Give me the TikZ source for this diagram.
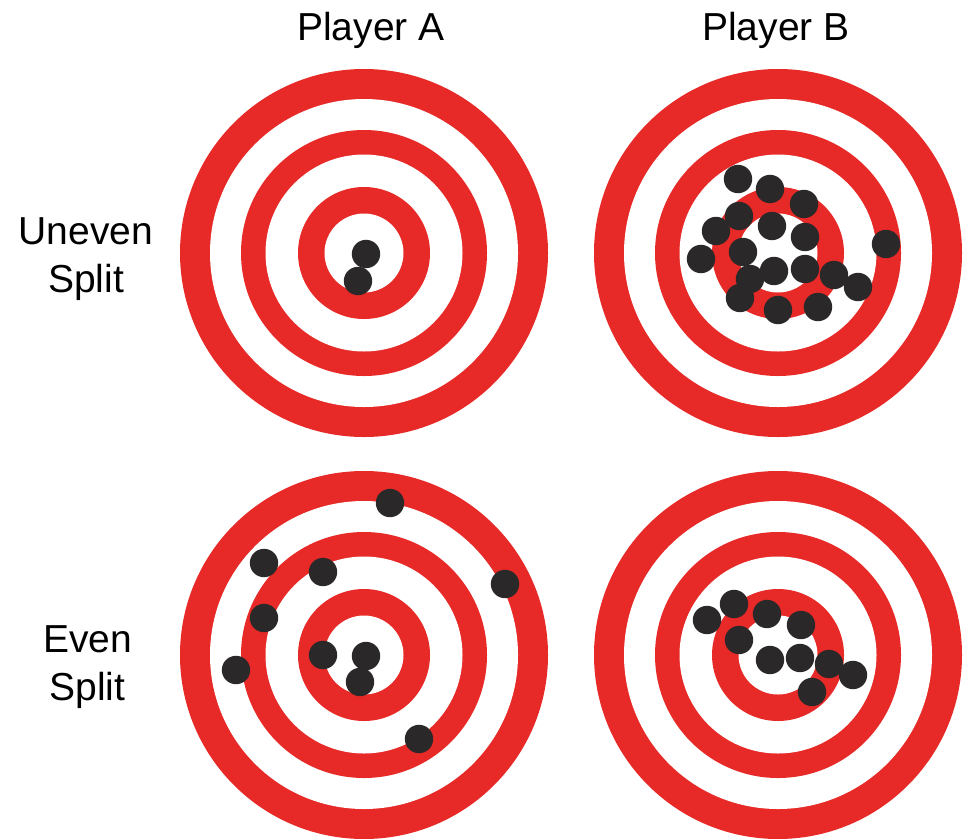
\documentclass[tikz,border=0pt]{standalone}
\usepackage{fontspec}
\setmainfont{Liberation Sans}
\usetikzlibrary{positioning}
\definecolor{ringred}{RGB}{231,42,39}
\definecolor{holegray}{RGB}{42,40,41}
\tikzstyle{heading} = [font=\fontsize{22.2}{25.5}\selectfont, text=black, inner sep=0pt]
\tikzstyle{rowname} = [font=\fontsize{22.2}{27.3}\selectfont, text=black, align=center, inner sep=0pt]
\tikzstyle{hole} = [fill=holegray]
\newcommand{\dartboard}[1]{%
  \foreach \r/\c in {36.8/ringred,30.8/white,24.6/ringred,19.7/white,13.2/ringred,7.9/white}
    \fill[\c] (#1) circle (\r mm);}

\begin{document}
\begin{tikzpicture}[x=0.2mm, y=-0.2mm]
    \useasboundingbox (0,0) rectangle (964,838);

    \coordinate (boardAu) at (364,253);
    \coordinate (boardBu) at (778,253);
    \coordinate (boardAe) at (364,655);
    \coordinate (boardBe) at (778,655);

    \dartboard{boardAu}
    \dartboard{boardBu}
    \dartboard{boardAe}
    \dartboard{boardBe}

    \node (playerA) [heading, anchor=base] at (371,40) {Player A};
    \node (playerB) [heading, anchor=base] at (776,40) {Player B};
    \node (uneven) [rowname] at (86,259) {Uneven\\Split};
    \node (even) [rowname] at (87.5,667.5) {Even\\Split};

    % player A, uneven split
    \foreach \x/\y in {366/254, 358/281}
        \fill[hole] (\x,\y) circle (2.84mm);

    % player B, uneven split
    \foreach \x/\y in {738/179, 770/189, 804/204, 739/216, 772/226, 716/231, 805/237,
                       886/244, 743/252, 701/259, 774/271, 805/269, 750/279, 834/275,
                       858/287, 740/298, 778/310, 818/307}
        \fill[hole] (\x,\y) circle (2.84mm);

    % player A, even split
    \foreach \x/\y in {390/503, 264/563, 323/572, 505/584, 264/618, 236/670,
                       323/655, 366/656, 360/682, 419/739}
        \fill[hole] (\x,\y) circle (2.84mm);

    % player B, even split
    \foreach \x/\y in {707/620, 734/604, 767/614, 801/625, 739/640, 770/660,
                       800/658, 829/664, 853/675, 812/692}
        \fill[hole] (\x,\y) circle (2.84mm);
\end{tikzpicture}
\end{document}
